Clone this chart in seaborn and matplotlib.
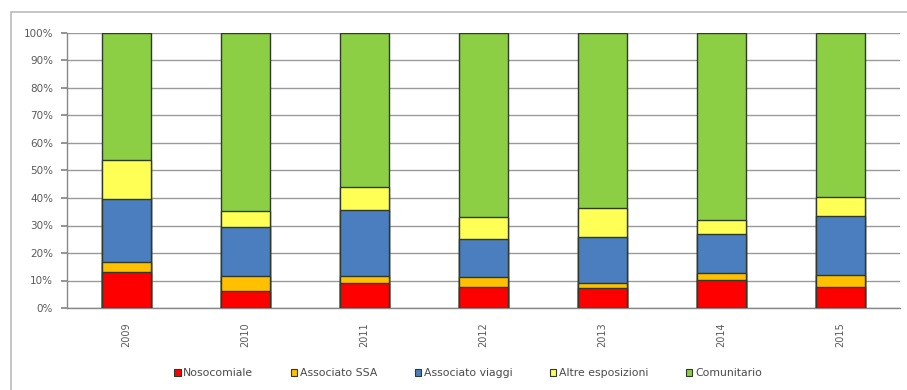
import matplotlib
matplotlib.use("Agg")
import matplotlib.pyplot as plt
from matplotlib.patches import Patch, Rectangle
import numpy as np
import pandas as pd
import seaborn as sns

years = ["2009", "2010", "2011", "2012", "2013", "2014", "2015"]
nosocomiale = [13.1, 6.2, 9.2, 7.5, 7.4, 10.2, 7.8]
associato_ssa = [3.6, 5.3, 2.6, 3.9, 1.6, 2.4, 4.2]
associato_viaggi = [22.9, 18.1, 23.8, 13.7, 16.7, 14.2, 21.5]
altre_esposizioni = [14.1, 5.8, 8.3, 8.1, 10.5, 5.2, 7.0]
comunitario = [46.3, 64.6, 56.1, 66.8, 63.8, 68.0, 59.5]

series_names = ["Nosocomiale", "Associato SSA", "Associato viaggi",
                "Altre esposizioni", "Comunitario"]
series_vals = [nosocomiale, associato_ssa, associato_viaggi,
               altre_esposizioni, comunitario]
colors = ["#FF0000", "#FFC000", "#4A7EBF", "#FFFF55", "#8CCF45"]

sns.set_theme(style="white")
plt.rcParams['font.family'] = ['DejaVu Sans']

fig = plt.figure(figsize=(9.07, 3.90), dpi=100)
ax = fig.add_axes([67/907, 1-308/390, (900-67)/907, (308-33)/390])

arr = np.array(series_vals)
cum = np.cumsum(arr, axis=0)
cum = cum / cum[-1] * 100.0

for i in range(len(series_names) - 1, -1, -1):
    df = pd.DataFrame({"year": years, "val": cum[i]})
    sns.barplot(data=df, x="year", y="val", color=colors[i], ax=ax,
                width=0.41, edgecolor="#2f3a2a", linewidth=1.0,
                saturation=1, zorder=3)

txt = "#5a5a5a"
ax.set_xlim(-0.5, 6.5)
ax.set_ylim(0, 100)
ax.set_yticks(np.arange(0, 101, 10))
ax.set_yticklabels([f"{v}%" for v in range(0, 101, 10)], fontsize=7.5, color=txt)
ax.set_xticks(range(len(years)))
ax.set_xticklabels(years, rotation=90, fontsize=7, color=txt)
ax.set_xticks(np.arange(-0.5, 7.0, 1.0), minor=True)
ax.tick_params(axis="x", which="major", length=0, pad=10)
ax.tick_params(axis="x", which="minor", length=3, color="#888888", direction="out")
ax.tick_params(axis="y", length=4, color="#888888", direction="out", pad=6, left=True)
ax.set_xlabel("")
ax.set_ylabel("")
ax.grid(axis="y", color="#9a9a9a", linewidth=1.0, zorder=0)
ax.set_axisbelow(True)
for s in ["top", "right"]:
    ax.spines[s].set_visible(False)
for s in ["left", "bottom"]:
    ax.spines[s].set_color("#888888")
    ax.spines[s].set_linewidth(1.0)

handles = [Patch(facecolor=c, edgecolor="#2f3a2a", linewidth=0.8) for c in colors]
fig.legend(handles, series_names, loc="center", bbox_to_anchor=(468/907, 1-373/390),
           ncol=5, frameon=False, fontsize=7.8, handlelength=0.6, handleheight=0.6,
           handletextpad=0.25, columnspacing=3.45, labelcolor="#4a4a4a")

fig.patches.append(Rectangle((11/907, -0.2), 1.2, 0.2 + (1-12/390),
                             transform=fig.transFigure, fill=False,
                             edgecolor="#bbbbbb", linewidth=1.2))

fig.savefig("out.png", dpi=100)
